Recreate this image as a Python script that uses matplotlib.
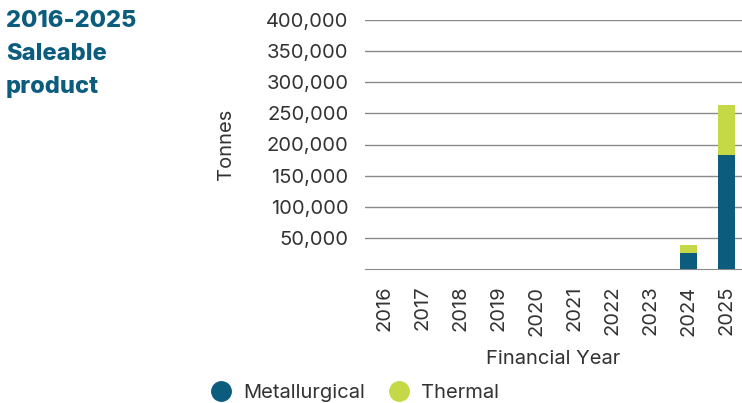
import matplotlib
matplotlib.use("Agg")
import matplotlib.pyplot as plt
from matplotlib.ticker import FuncFormatter
from matplotlib.lines import Line2D

years = ["2016", "2017", "2018", "2019", "2020", "2021", "2022", "2023", "2024", "2025"]
metallurgical = [0, 0, 0, 0, 0, 0, 0, 0, 25700, 183000]
thermal = [0, 0, 0, 0, 0, 0, 0, 0, 12800, 80500]

MET = "#0b5c7d"
THE = "#c5d845"
TXT = "#333333"
FS = 14.5
plt.rcParams['font.family'] = ['Inter', 'DejaVu Sans']

fig = plt.figure(figsize=(7.42, 4.03), dpi=100)
ax = fig.add_axes([365/742, 1-269/403, 377/742, 249/403])
x = list(range(len(years)))
ax.bar(x, metallurgical, width=0.45, color=MET, zorder=3)
ax.bar(x, thermal, width=0.45, bottom=metallurgical, color=THE, zorder=3)
ax.set_ylim(0, 400000)
ax.set_xlim(-0.5, 9.4)
ax.set_yticks(range(50000, 400001, 50000))
ax.yaxis.set_major_formatter(FuncFormatter(lambda v, p: f"{int(v):,}"))
ax.set_xticks(x)
ax.set_xticklabels(years, rotation=90)
ax.tick_params(axis='both', length=0, labelsize=FS, colors=TXT)
ax.tick_params(axis='x', pad=12)
ax.tick_params(axis='y', pad=12)
ax.grid(axis='y', color='#8a8a8a', linewidth=1, zorder=0)
for s in ['top', 'right', 'left']:
    ax.spines[s].set_visible(False)
ax.spines['bottom'].set_color('#8a8a8a')
ax.set_ylabel("Tonnes", fontsize=FS, color=TXT, labelpad=22)
ax.set_xlabel("Financial Year", fontsize=FS, color=TXT, labelpad=10)

fig.text(6/742, 1-10/403, "2016-2025\nSaleable\nproduct", fontsize=17, fontweight='heavy',
         color=MET, va='top', ha='left', linespacing=1.65)

handles = [Line2D([], [], marker='o', linestyle='', markersize=14, color=MET, label='Metallurgical'),
           Line2D([], [], marker='o', linestyle='', markersize=14, color=THE, label='Thermal')]
fig.legend(handles=handles, loc='center', bbox_to_anchor=(350/742, 1-393/403), ncol=2, frameon=False,
           fontsize=FS, handletextpad=0.1, columnspacing=0.7, labelcolor=TXT)

fig.savefig("out.png", dpi=100)
